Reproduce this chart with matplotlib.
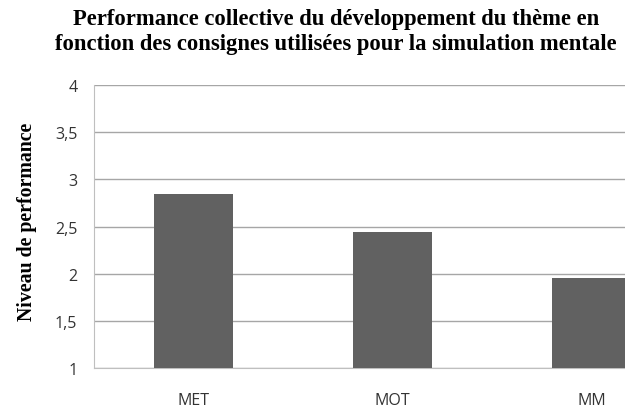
import matplotlib
matplotlib.use("Agg")
import matplotlib.pyplot as plt
from matplotlib.ticker import FuncFormatter

categories = ["MET", "MOT", "MM"]
values = [2.84, 2.44, 1.95]
y_ticks = [1, 1.5, 2, 2.5, 3, 3.5, 4]

title = ("Performance collective du développement du thème en\n"
         "fonction des consignes utilisées pour la simulation mentale")
ylabel = "Niveau de performance"

fig = plt.figure(figsize=(6.25, 4.1), dpi=100)
# the original chart is cropped on the right, so the axes run past the figure edge
ax = fig.add_axes([0.1504, 0.1, 0.955, 0.69])

x = range(len(categories))
ax.bar(x, values, width=0.4, bottom=0, color="#616161", zorder=3)

ax.set_xlim(-0.5, len(categories) - 0.5)
ax.set_ylim(1, 4)
ax.set_yticks(y_ticks)
ax.yaxis.set_major_formatter(FuncFormatter(lambda v, p: f"{v:g}".replace(".", ",")))
ax.set_xticks(list(x))
ax.set_xticklabels(categories)

ax.grid(axis="y", color="#a6a6a6", linewidth=1, zorder=0)
for side in ["top", "right"]:
    ax.spines[side].set_visible(False)
ax.spines["left"].set_color("#bfbfbf")
ax.spines["bottom"].set_color("#bfbfbf")
ax.tick_params(length=0, labelsize=11.5, labelcolor="#333333", pad=12)
ax.tick_params(axis="x", pad=17)
for lbl in ax.get_xticklabels() + ax.get_yticklabels():
    lbl.set_fontfamily("Open Sans")

fig.text(336 / 625, 1 - 32 / 410, title, ha="center", va="center",
         fontsize=16.3, fontweight="bold", family="Liberation Serif",
         linespacing=1.3)
fig.text(27 / 625, 1 - 222 / 410, ylabel, ha="center", va="center",
         rotation=90, fontsize=14.3, fontweight="bold", family="Liberation Serif")

fig.savefig("out.png", dpi=100)
